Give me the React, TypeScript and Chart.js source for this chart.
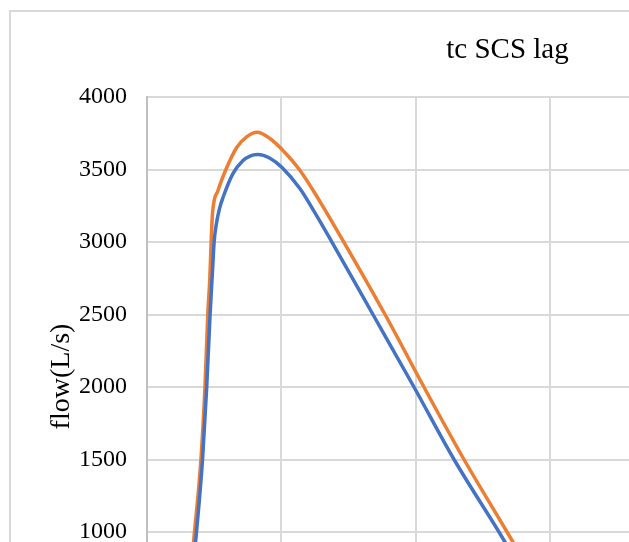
import React, { useEffect, useRef } from "react";
import { Chart, registerables } from "chart.js";

Chart.register(...registerables);

const chartTitle = "tc SCS lag";
const yAxisTitle = "flow(L/s)";
const xAxisTitle = "time (h)";

// blue series (x in hours, flow in L/s)
const blueX = [0.2, 0.31, 0.368, 0.413, 0.444, 0.469, 0.487, 0.499, 0.515, 0.539, 0.565, 0.639, 0.714, 0.766, 0.823, 0.914, 1.004, 1.138, 1.249, 1.373, 1.68, 1.985, 2.283, 2.617, 2.94, 3.27];
const blueY = [0, 500, 1000, 1500, 2000, 2500, 2800, 3000, 3120, 3230, 3307, 3472, 3562, 3593, 3603, 3578, 3514, 3367, 3201, 3003, 2500, 2000, 1500, 1000, 500, 0];

// orange series
const orangeX = [0.19, 0.3, 0.353, 0.401, 0.431, 0.452, 0.467, 0.477, 0.487, 0.528, 0.593, 0.667, 0.743, 0.818, 0.914, 1.004, 1.138, 1.286, 1.457, 1.77, 2.059, 2.357, 2.677, 2.99, 3.32];
const orangeY = [0, 500, 1000, 1500, 2000, 2500, 2750, 3000, 3197, 3355, 3514, 3652, 3727, 3757, 3714, 3638, 3493, 3279, 3010, 2500, 2000, 1500, 1000, 500, 0];

const yMin = 0;
const yMax = 4000;
const yStep = 500;
const xMin = 0;
const xMax = 6.372;
const xStep = 1;

export default function App() {
  const ref = useRef<HTMLCanvasElement | null>(null);
  useEffect(() => {
    if (!ref.current) return;
    const font = "'Liberation Serif', 'Times New Roman', serif";
    const chart = new Chart(ref.current, {
      type: "line",
      data: {
        datasets: [
          {
            label: "blue",
            data: blueX.map((x, i) => ({ x, y: blueY[i] })),
            borderColor: "#4472C4",
            borderWidth: 3.5,
            pointRadius: 0,
            cubicInterpolationMode: "monotone",
            fill: false,
          },
          {
            label: "orange",
            data: orangeX.map((x, i) => ({ x, y: orangeY[i] })),
            borderColor: "#ED7D31",
            borderWidth: 3.5,
            pointRadius: 0,
            cubicInterpolationMode: "monotone",
            fill: false,
          },
        ],
      },
      options: {
        animation: false,
        responsive: false,
        maintainAspectRatio: false,
        layout: { padding: { left: 0, right: 0, top: 0, bottom: 15 } },
        plugins: {
          legend: { display: false },
          tooltip: { enabled: false },
          title: {
            display: true,
            text: chartTitle,
            color: "#000",
            font: { family: font, size: 29, weight: "normal" },
            padding: { top: 21, bottom: 29.2 },
          },
        },
        scales: {
          x: {
            type: "linear",
            min: xMin,
            max: xMax,
            ticks: { stepSize: xStep, includeBounds: false, color: "#000", font: { family: font, size: 24 } },
            grid: { color: "#d9d9d9", lineWidth: 2, drawTicks: false },
            border: { display: false },
            title: { display: true, text: xAxisTitle, color: "#000", font: { family: font, size: 28 } },
            afterFit: (s: any) => {
              s.height = 80;
            },
          },
          y: {
            min: yMin,
            max: yMax,
            ticks: {
              stepSize: yStep,
              color: "#000",
              padding: 20,
              font: { family: font, size: 24 },
              callback: (v: any) => String(v),
            },
            grid: { color: "#d9d9d9", lineWidth: 2, drawTicks: false },
            border: { display: true, color: "#bfbfbf", width: 2 },
            title: {
              display: true,
              text: "   " + yAxisTitle,
              color: "#000",
              font: { family: font, size: 28 },
              padding: { top: 34.2, bottom: 0 },
            },
            afterFit: (s: any) => {
              s.width = 136;
            },
          },
        },
      },
    });
    return () => chart.destroy();
  }, []);

  return (
    <div style={{ position: "fixed", left: 0, top: 0, width: 629, height: 542, overflow: "hidden", background: "#fff" }}>
      <div style={{ position: "absolute", left: 9, top: 10, border: "2px solid #d9d9d9", width: 993, height: 760 }}>
        <canvas ref={ref} width={993} height={760} style={{ display: "block" }} />
      </div>
    </div>
  );
}
